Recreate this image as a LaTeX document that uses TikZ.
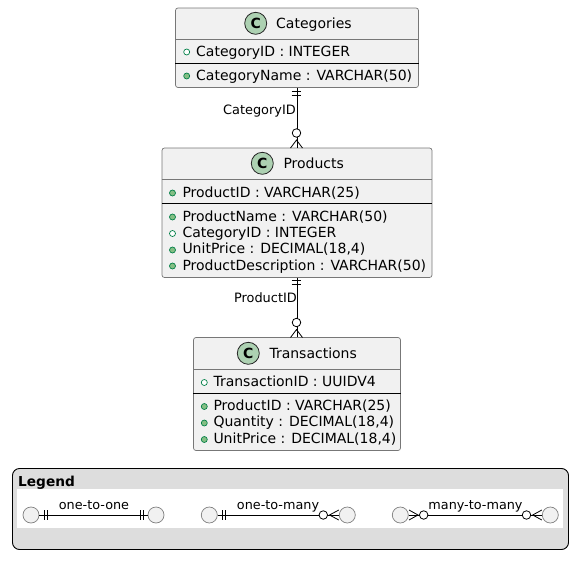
\documentclass[tikz,border=0pt]{standalone}
\usepackage{fontspec}
\setmainfont{DejaVu Sans}
\definecolor{boxfill}{HTML}{F1F1F1}
\definecolor{boxline}{HTML}{777777}
\definecolor{spot}{HTML}{ADD1B2}
\definecolor{visline}{HTML}{038048}
\definecolor{visfill}{HTML}{84BE84}
\definecolor{legfill}{HTML}{DDDDDD}
\tikzset{
  classbox/.style={draw=boxline,fill=boxfill,rounded corners=2.5pt,line width=0.7pt,inner sep=0pt},
  headline/.style={draw=boxline,line width=0.7pt},
  memline/.style={draw=black,line width=0.9pt},
  spotc/.style={circle,draw=black!85,fill=spot,line width=0.8pt,minimum size=22pt,inner sep=0pt,font=\fontsize{14}{14}\bfseries},
  cname/.style={anchor=base west,inner sep=0pt,font=\fontsize{14}{16}\selectfont},
  member/.style={anchor=base west,inner sep=0pt,font=\fontsize{14}{16}\selectfont},
  pubdot/.style={circle,draw=visline,fill=visfill,line width=0.7pt,minimum size=6pt,inner sep=0pt},
  opendot/.style={circle,draw=visline,fill=white,line width=0.7pt,minimum size=6pt,inner sep=0pt},
  lab/.style={anchor=base east,inner sep=0pt,font=\fontsize{12.9}{14}\selectfont},
  leglab/.style={anchor=base,inner sep=0pt,font=\fontsize{12.8}{14}\selectfont},
  rel/.style={draw=black,line width=0.8pt},
  ring/.style={circle,draw=black,fill=white,line width=0.8pt,inner sep=0pt},
  legent/.style={circle,draw=black!50,fill=boxfill,line width=0.7pt,minimum size=16pt,inner sep=0pt},
}
\begin{document}
\begin{tikzpicture}[x=1pt,y=-1pt]
\useasboundingbox (0,0) rectangle (587,568);
% Categories
\node[classbox,minimum width=243pt,minimum height=79.5pt] (cat) at (297,47.75) {};
\draw[headline] (cat.west |- 0,39.5) -- (cat.east |- 0,39.5);
\draw[memline] (cat.west |- 0,63) -- (cat.east |- 0,63);
\node[spotc] (catc) at (255.7,23.3) {C};
\node[cname] (catn) at (276,28) {Categories};
\node[opendot] (catd1) at (186.7,52) {};
\node[member] (catm1) at (196,56.7) {CategoryID : INTEGER};
\node[pubdot] (catd2) at (186.7,76) {};
\node[member] (catm2) at (196,80.2) {CategoryName : VARCHAR(50)};
% Products
\node[classbox,minimum width=270pt,minimum height=129.5pt] (prod) at (297,212.75) {};
\draw[headline] (prod.west |- 0,179.5) -- (prod.east |- 0,179.5);
\draw[memline] (prod.west |- 0,203.5) -- (prod.east |- 0,203.5);
\node[spotc] (prodc) at (262.3,163.3) {C};
\node[cname] (prodn) at (283.3,168) {Products};
\node[pubdot] (prodd1) at (172.5,193) {};
\node[member] (prodm1) at (182.3,197.3) {ProductID : VARCHAR(25)};
\node[pubdot] (prodd2) at (172.5,217) {};
\node[member] (prodm2) at (182.3,221.3) {ProductName : VARCHAR(50)};
\node[opendot] (prodd3) at (172.5,233.5) {};
\node[member] (prodm3) at (182.3,237.5) {CategoryID : INTEGER};
\node[pubdot] (prodd4) at (172.5,250) {};
\node[member] (prodm4) at (182.3,253.7) {UnitPrice : DECIMAL(18,4)};
\node[pubdot] (prodd5) at (172.5,266) {};
\node[member] (prodm5) at (182.3,270) {ProductDescription : VARCHAR(50)};
% Transactions
\node[classbox,minimum width=207pt,minimum height=113pt] (tran) at (297,394) {};
\draw[headline] (tran.west |- 0,369.5) -- (tran.east |- 0,369.5);
\draw[memline] (tran.west |- 0,393) -- (tran.east |- 0,393);
\node[spotc] (tranc) at (248.3,353.3) {C};
\node[cname] (trann) at (269.3,358) {Transactions};
\node[opendot] (trand1) at (204.3,382.5) {};
\node[member] (tranm1) at (213.3,386.7) {TransactionID : UUIDV4};
\node[pubdot] (trand2) at (204.3,406.5) {};
\node[member] (tranm2) at (213.3,410.3) {ProductID : VARCHAR(25)};
\node[pubdot] (trand3) at (204.3,423) {};
\node[member] (tranm3) at (213.3,426.8) {Quantity : DECIMAL(18,4)};
\node[pubdot] (trand4) at (204.3,439.5) {};
\node[member] (tranm4) at (213.3,443.3) {UnitPrice : DECIMAL(18,4)};
% Relations
\draw[rel] (cat.south) -- (prod.north);
\draw[rel] (291.7,91) -- (301.3,91) (291.7,95.5) -- (301.3,95.5);
\draw[rel] (290.5,148) -- (296.5,140) -- (302.5,148);
\node[ring,minimum size=8.5pt] (catr) at (296.5,133) {};
\node[lab] (catl) at (296,114.3) {CategoryID};
\draw[rel] (prod.south) -- (tran.north);
\draw[rel] (291.7,280) -- (301.3,280) (291.7,284.3) -- (301.3,284.3);
\draw[rel] (290.5,337.5) -- (296.5,329.5) -- (302.5,337.5);
\node[ring,minimum size=8.5pt] (prodr) at (296.5,322.5) {};
\node[lab] (prodl) at (297,302.7) {ProductID};
% Legend
\node[draw=black,fill=legfill,rounded corners=7pt,line width=0.9pt,minimum width=556pt,minimum height=81pt,inner sep=0pt] (leg) at (290.5,509) {};
\node[anchor=base west,inner sep=0pt,font=\fontsize{13.7}{15}\bfseries] (legt) at (18,486) {Legend};
\fill[white] (17,489) rectangle (563,528);
% one-to-one
\node[legent] (a1) at (31,515) {};
\node[legent] (a2) at (156,515) {};
\draw[rel] (a1) -- (a2);
\draw[rel] (44.3,510) -- (44.3,520) (47.3,510) -- (47.3,520) (140,510) -- (140,520) (143,510) -- (143,520);
\node[leglab] (a3) at (94,509) {one-to-one};
% one-to-many
\node[legent] (b1) at (209.3,515) {};
\node[legent] (b2) at (347.3,515) {};
\draw[rel] (b1) -- (b2);
\draw[rel] (222.3,510) -- (222.3,520) (225.3,510) -- (225.3,520);
\draw[rel] (338.8,510) -- (329.5,515) -- (338.8,520);
\node[ring,minimum size=8.5pt] (b4) at (323.3,515) {};
\node[leglab] (b3) at (278,509) {one-to-many};
% many-to-many
\node[legent] (c1) at (400.3,515) {};
\node[legent] (c2) at (550.3,515) {};
\draw[rel] (c1) -- (c2);
\draw[rel] (409,510) -- (418,515) -- (409,520);
\node[ring,minimum size=8.5pt] (c4) at (423.7,515) {};
\draw[rel] (541.8,510) -- (532.7,515) -- (541.8,520);
\node[ring,minimum size=8.5pt] (c5) at (526.5,515) {};
\node[leglab] (c3) at (475.5,509) {many-to-many};
\end{tikzpicture}
\end{document}
